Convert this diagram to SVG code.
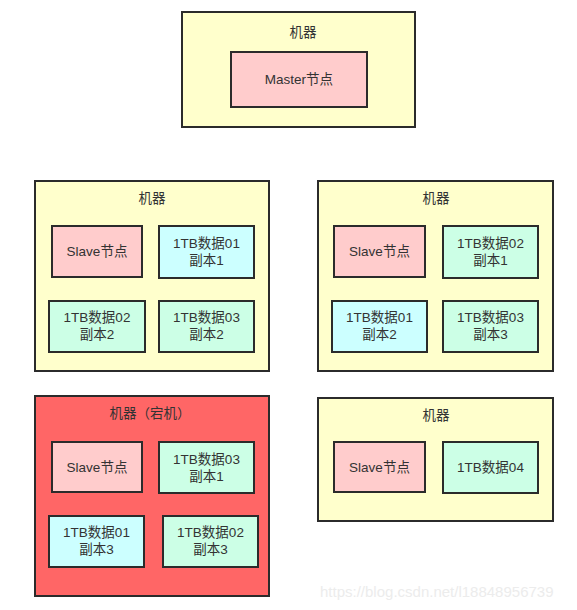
<svg xmlns="http://www.w3.org/2000/svg" width="577" height="610" viewBox="0 0 577 610">
<style>
.m{fill:#ffffcc;stroke:#2b2b2b;stroke-width:2}
.d{fill:#ff6666;stroke:#2b2b2b;stroke-width:2}
.p{fill:#ffcccc;stroke:#2b2b2b;stroke-width:2}
.c{fill:#ccffff;stroke:#2b2b2b;stroke-width:2}
.g{fill:#ccffe6;stroke:#2b2b2b;stroke-width:2}
text{font-family:"Liberation Sans","Noto Sans CJK SC",sans-serif;font-size:13.5px;fill:#333;text-anchor:middle}
.w{fill:#ececec;font-size:15px;text-anchor:start}
</style>
<rect width="577" height="610" fill="#fff"/>
<g id="machine-master">
<rect class="m" x="182" y="12" width="233" height="115"/>
<text x="303" y="37">机器</text>
<g id="master"><rect class="p" x="231" y="52" width="136" height="55"/><text x="299" y="84">Master节点</text></g>
</g>
<g id="machine-1">
<rect class="m" x="35" y="181" width="234" height="190"/>
<text x="152" y="203">机器</text>
<g id="m1-slave"><rect class="p" x="52" y="226" width="90" height="51"/><text x="97" y="256">Slave节点</text></g>
<g id="m1-d01"><rect class="c" x="159" y="226" width="95" height="52"/><text x="206.5" y="248">1TB数据01</text><text x="206.5" y="265">副本1</text></g>
<g id="m1-d02"><rect class="g" x="49" y="301" width="96" height="51"/><text x="97" y="322">1TB数据02</text><text x="97" y="339">副本2</text></g>
<g id="m1-d03"><rect class="g" x="159" y="301" width="95" height="51"/><text x="206.5" y="322">1TB数据03</text><text x="206.5" y="339">副本2</text></g>
</g>
<g id="machine-2">
<rect class="m" x="318" y="181" width="235" height="190"/>
<text x="436" y="203">机器</text>
<g id="m2-slave"><rect class="p" x="334" y="226" width="91" height="51"/><text x="379.5" y="256">Slave节点</text></g>
<g id="m2-d02"><rect class="g" x="443" y="226" width="95" height="52"/><text x="490.5" y="248">1TB数据02</text><text x="490.5" y="265">副本1</text></g>
<g id="m2-d01"><rect class="c" x="332" y="301" width="95" height="51"/><text x="379.5" y="322">1TB数据01</text><text x="379.5" y="339">副本2</text></g>
<g id="m2-d03"><rect class="g" x="443" y="301" width="95" height="51"/><text x="490.5" y="322">1TB数据03</text><text x="490.5" y="339">副本3</text></g>
</g>
<g id="machine-3-down">
<rect class="d" x="35" y="396" width="234" height="200"/>
<text x="150" y="418">机器（宕机）</text>
<g id="m3-slave"><rect class="p" x="52" y="442" width="90" height="50"/><text x="97" y="472">Slave节点</text></g>
<g id="m3-d03"><rect class="g" x="159" y="442" width="95" height="51"/><text x="206.5" y="464">1TB数据03</text><text x="206.5" y="481">副本1</text></g>
<g id="m3-d01"><rect class="c" x="49" y="516" width="95" height="51"/><text x="96.5" y="537">1TB数据01</text><text x="96.5" y="554">副本3</text></g>
<g id="m3-d02"><rect class="g" x="163" y="516" width="95" height="51"/><text x="210.5" y="537">1TB数据02</text><text x="210.5" y="554">副本3</text></g>
</g>
<g id="machine-4">
<rect class="m" x="318" y="398" width="235" height="123"/>
<text x="436" y="420">机器</text>
<g id="m4-slave"><rect class="p" x="334" y="442" width="91" height="50"/><text x="379.5" y="472">Slave节点</text></g>
<g id="m4-d04"><rect class="g" x="443" y="442" width="95" height="51"/><text x="490.5" y="472">1TB数据04</text></g>
</g>
<g id="connectors"></g>
<text class="w" x="320" y="597">https://blog.csdn.net/l18848956739</text>
</svg>
